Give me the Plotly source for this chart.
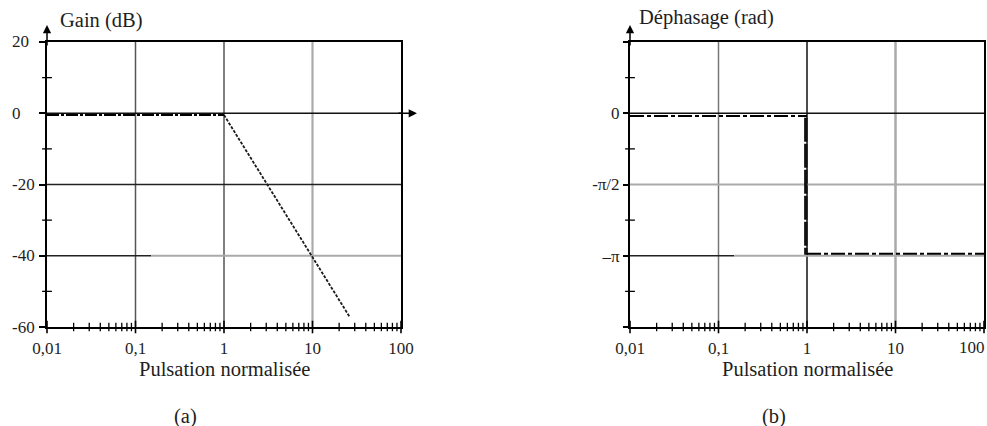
import math
import plotly.graph_objects as go

# Asymptotic Bode diagram of a second-order low-pass (normalised pulsation)
omega_flat = [0.01, 1.0]
gain_flat = [-0.5, -0.5]
omega_slope = [1.0, 26.5]
gain_slope = [-0.5, -57.3]

omega_phase_low = [0.01, 1.0]
phase_low = [-0.06, -0.06]
omega_phase_step = [0.97, 0.97]
phase_step = [-0.1, -3.12]
omega_phase_high = [1.0, 100.0]
phase_high = [-3.10, -3.10]

x_tickvals = [0.01, 0.1, 1, 10, 100]
x_ticktext = ["0,01", "0,1", "1", "10", "100"]
gain_tickvals = [20, 0, -20, -40, -60]
gain_ticktext = ["20", "0", "-20", "-40", "-60"]
gain_minor = [10, -10, -30, -50]
phase_tickvals = [0, -math.pi / 2, -math.pi]
phase_ticktext = ["0", "-\u03c0/2", "\u2013\u03c0"]
phase_major = [math.pi / 2, 0, -math.pi / 2, -math.pi, -3 * math.pi / 2]
phase_minor = [math.pi / 4, -math.pi / 4, -3 * math.pi / 4, -5 * math.pi / 4]

GAIN_RANGE = [-60, 20]
PHASE_RANGE = [-3 * math.pi / 2, math.pi / 2]

FONT = "Liberation Serif"
TXT = "#1e1e1e"
TICK_SIZE = 17
TITLE_SIZE = 20.5
W, H = 987, 426
YDOM = [1 - 327 / H, 1 - 42 / H]
XDOM_L = [47 / W, 401 / W]
XDOM_R = [630 / W, 984 / W]

fig = go.Figure()


def seg(x, y, xa, ya, color, width, dash="solid"):
    fig.add_trace(go.Scatter(x=x, y=y, xaxis=xa, yaxis=ya, mode="lines",
                             line=dict(color=color, width=width, dash=dash),
                             hoverinfo="skip", showlegend=False))


def ticks(x, y, xa, ya, symbol, size, width=1.3):
    fig.add_trace(go.Scatter(x=x, y=y, xaxis=xa, yaxis=ya, mode="markers",
                             marker=dict(symbol=symbol, size=size,
                                         line=dict(color="black", width=width)),
                             cliponaxis=False, hoverinfo="skip", showlegend=False))


x_minor = [k * 10 ** d for d in range(-2, 2) for k in range(2, 10)]

# ---- (a) gain ----
seg([0.1, 0.1], GAIN_RANGE, "x", "y", "#555555", 1.5)
seg([1, 1], GAIN_RANGE, "x", "y", "#555555", 1.5)
seg([10, 10], GAIN_RANGE, "x", "y", "#aaaaaa", 2.2)
seg([0.01, 100], [0, 0], "x", "y", "#111111", 1.5)
seg([0.01, 100], [-20, -20], "x", "y", "#222222", 1.3)
seg([0.01, 0.15], [-40, -40], "x", "y", "#222222", 1.3)
seg([0.15, 100], [-40, -40], "x", "y", "#aaaaaa", 2.2)
seg(omega_flat, gain_flat, "x", "y", "black", 2, "12px,2px,3px,2px")
seg(omega_slope, gain_slope, "x", "y", "#1a1a1a", 1.8, "3px,1.5px")
ticks(x_minor, [GAIN_RANGE[0]] * len(x_minor), "x", "y", "line-ns", 6)
ticks(x_tickvals, [GAIN_RANGE[0]] * len(x_tickvals), "x", "y", "line-ns", 9, 1.6)
ticks([0.01] * len(gain_minor), gain_minor, "x", "y", "line-ew", 7)

# ---- (b) phase ----
seg([0.1, 0.1], PHASE_RANGE, "x2", "y2", "#777777", 1.5)
seg([1, 1], PHASE_RANGE, "x2", "y2", "#111111", 1.5)
seg([10, 10], PHASE_RANGE, "x2", "y2", "#aaaaaa", 2.5)
seg([0.01, 100], [0, 0], "x2", "y2", "#111111", 1.5)
seg([0.01, 100], [-math.pi / 2] * 2, "x2", "y2", "#aaaaaa", 2.2)
seg([0.01, 0.15], [-math.pi] * 2, "x2", "y2", "#222222", 1.3)
seg([0.15, 100], [-math.pi] * 2, "x2", "y2", "#aaaaaa", 2.2)
seg(omega_phase_low, phase_low, "x2", "y2", "black", 2, "14px,3px,4px,3px")
seg(omega_phase_step, phase_step, "x2", "y2", "#111111", 3.4, "24px,2px")
seg(omega_phase_high, phase_high, "x2", "y2", "black", 2, "14px,3px,4px,3px")
ticks(x_minor, [PHASE_RANGE[0]] * len(x_minor), "x2", "y2", "line-ns", 6)
ticks(x_tickvals, [PHASE_RANGE[0]] * len(x_tickvals), "x2", "y2", "line-ns", 9, 1.6)
ticks([0.01] * len(phase_minor), phase_minor, "x2", "y2", "line-ew", 7)

axis_x = dict(type="log", range=[-2, 2], showgrid=False, zeroline=False,
              automargin=False,
              showline=True, linecolor="black", linewidth=2, mirror=True,
              tickvals=x_tickvals, ticktext=x_ticktext, ticks="outside",
              ticklen=5, tickcolor="rgba(0,0,0,0)",
              tickfont=dict(family=FONT, size=TICK_SIZE, color=TXT))
fig.update_layout(
    width=W, height=H, autosize=False,
    margin=dict(l=0, r=0, t=0, b=0, pad=0, autoexpand=False),
    paper_bgcolor="white", plot_bgcolor="white",
    showlegend=False,
    xaxis=dict(axis_x, domain=XDOM_L, anchor="y"),
    xaxis2=dict(axis_x, domain=XDOM_R, anchor="y2"),
    yaxis=dict(range=GAIN_RANGE, domain=YDOM, anchor="x", showgrid=False,
               automargin=False,
               zeroline=False, showline=True, linecolor="black", linewidth=2,
               mirror=True, tickvals=gain_tickvals, ticktext=[""] * 5,
               ticks="outside", ticklen=6, tickwidth=1.5, tickcolor="black"),
    yaxis2=dict(range=PHASE_RANGE, domain=YDOM, anchor="x2", showgrid=False,
                automargin=False,
                zeroline=False, showline=True, linecolor="black", linewidth=2,
                mirror=True, tickvals=phase_major,
                ticktext=[""] + phase_ticktext + [""],
                ticks="outside", ticklen=5, tickwidth=1.5, tickcolor="black",
                tickfont=dict(family=FONT, size=TICK_SIZE, color=TXT)),
)

ann = []
# gain tick labels, left-aligned in the margin
for v, t in zip(gain_tickvals, gain_ticktext):
    ann.append(dict(x=10 / W, xref="paper", y=v, yref="y", text=t,
                    xanchor="left", yanchor="middle", showarrow=False,
                    font=dict(family=FONT, size=TICK_SIZE, color=TXT)))
# last decade label of the phase plot, kept inside the page edge
ann.append(dict(x=1, xref="paper", y=1 - 347 / H, yref="paper",
                text=x_ticktext[-1], xanchor="right", yanchor="middle",
                showarrow=False, font=dict(family=FONT, size=TICK_SIZE, color=TXT)))
# axis titles
ann += [
    dict(x=58 / W, xref="paper", y=1 - 20 / H, yref="paper", text="Gain (dB)",
         xanchor="left", yanchor="middle", showarrow=False,
         font=dict(family=FONT, size=TITLE_SIZE, color=TXT)),
    dict(x=637 / W, xref="paper", y=1 - 17 / H, yref="paper", text="D\u00e9phasage (rad)",
         xanchor="left", yanchor="middle", showarrow=False,
         font=dict(family=FONT, size=TITLE_SIZE, color=TXT)),
    dict(x=0.5, xref="x domain", y=1 - 369 / H, yref="paper", text="Pulsation normalis\u00e9e",
         xanchor="center", yanchor="middle", showarrow=False,
         font=dict(family=FONT, size=TITLE_SIZE, color=TXT)),
    dict(x=0.5, xref="x2 domain", y=1 - 369 / H, yref="paper", text="Pulsation normalis\u00e9e",
         xanchor="center", yanchor="middle", showarrow=False,
         font=dict(family=FONT, size=TITLE_SIZE, color=TXT)),
    dict(x=185 / W, xref="paper", y=1 - 416 / H, yref="paper", text="(a)",
         xanchor="center", yanchor="middle", showarrow=False,
         font=dict(family=FONT, size=TITLE_SIZE, color=TXT)),
    dict(x=774 / W, xref="paper", y=1 - 416 / H, yref="paper", text="(b)",
         xanchor="center", yanchor="middle", showarrow=False,
         font=dict(family=FONT, size=TITLE_SIZE, color=TXT)),
]
# axis arrows
arrow = dict(text="", showarrow=True, arrowhead=2, arrowsize=1.1, arrowwidth=1.5,
             arrowcolor="black", standoff=0)
ann += [
    dict(arrow, x=0, xref="x domain", y=1.06, yref="y domain", ax=0, ay=22),
    dict(arrow, x=0, xref="x2 domain", y=1.06, yref="y2 domain", ax=0, ay=22),
    dict(arrow, x=1.045, xref="x domain", y=0, yref="y", ax=-20, ay=0),
]
fig.update_layout(annotations=ann)

fig.write_html("out.html")
